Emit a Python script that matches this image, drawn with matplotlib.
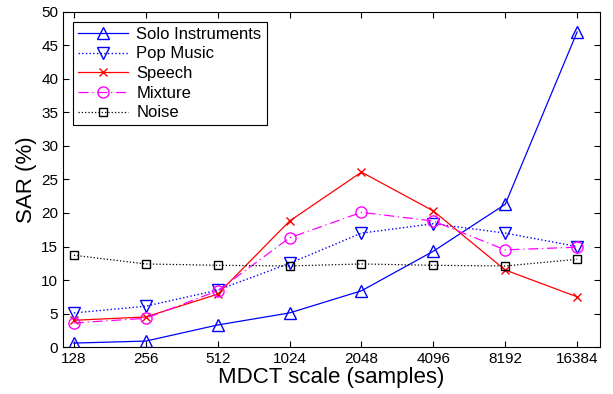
import matplotlib.pyplot as plt

plt.rcParams['font.family'] = ['Liberation Sans', 'DejaVu Sans']

escalas = ['128', '256', '512', '1024', '2048', '4096', '8192', '16384']
solo = [0.6, 0.9, 3.3, 5.1, 8.4, 14.3, 21.3, 47.0]
pop = [5.1, 6.1, 8.5, 12.5, 17.0, 18.4, 17.0, 15.0]
speech = [4.0, 4.5, 7.9, 18.8, 26.1, 20.3, 11.5, 7.5]
mixture = [3.6, 4.3, 8.4, 16.3, 20.1, 18.8, 14.5, 14.9]
noise = [13.7, 12.4, 12.2, 12.1, 12.4, 12.2, 12.1, 13.1]

x = list(range(len(escalas)))

fig = plt.figure(figsize=(6.13, 3.94), dpi=100)
ax = fig.add_axes([0.103, 0.119, 0.876, 0.851])

ax.plot(x, solo, '-', color='blue', marker='^', ms=9, mfc='none', lw=0.9, label='Solo Instruments')
ax.plot(x, pop, ':', color='blue', marker='v', ms=9, mfc='none', lw=1.0, label='Pop Music')
ax.plot(x, speech, '-', color='red', marker='x', ms=6, lw=0.9, label='Speech')
ax.plot(x, mixture, '-.', color='magenta', marker='o', ms=8, mfc='none', lw=0.9,
        dashes=(8, 3, 1, 3), label='Mixture')
ax.plot(x, noise, ':', color='black', marker='s', ms=6, mfc='none', lw=0.9, label='Noise')

ax.set_xlim(-0.15, 7.32)
ax.set_ylim(0, 50)
ax.set_xticks(x)
ax.set_xticklabels(escalas)
ax.set_yticks(range(0, 51, 5))
ax.tick_params(direction='in', top=True, right=True, labelsize=11, length=4)
ax.set_xlabel('MDCT scale (samples)', fontsize=16, labelpad=1)
ax.set_ylabel('SAR (%)', fontsize=16, labelpad=3)

leg = ax.legend(loc='upper left', fontsize=12, fancybox=False, framealpha=1,
                edgecolor='black', handlelength=3.0, borderpad=0.3,
                labelspacing=0.28, handletextpad=0.5, borderaxespad=0.6)
leg.get_frame().set_linewidth(0.8)

fig.savefig('out.png', dpi=100)
